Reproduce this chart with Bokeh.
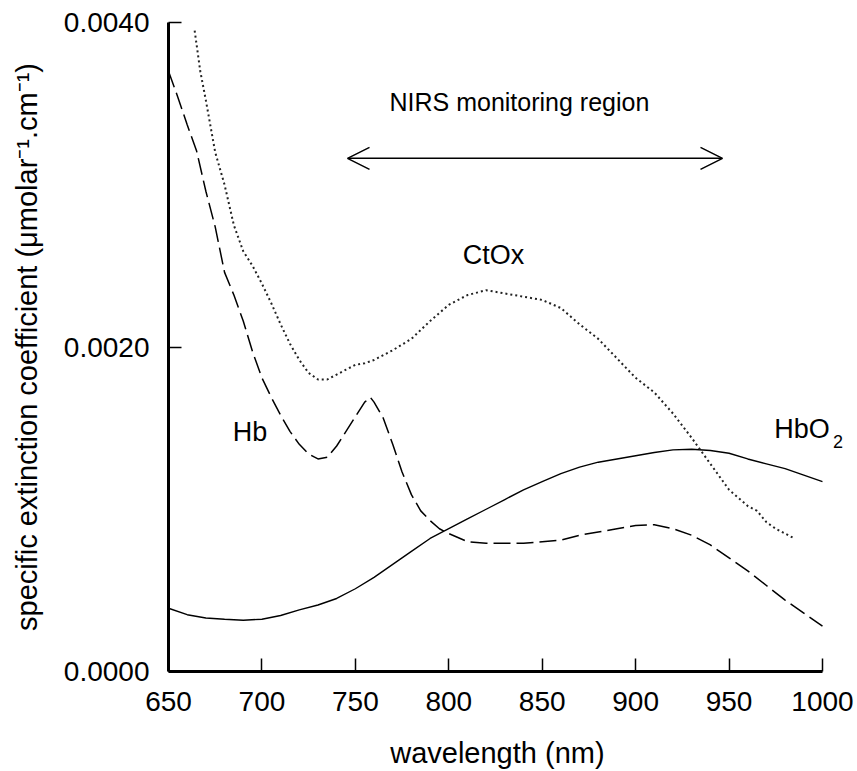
from bokeh.plotting import figure
from bokeh.models import Range1d, FixedTicker, PrintfTickFormatter, Label, Arrow, OpenHead
from bokeh.embed import file_html
from bokeh.resources import INLINE

# ---- data ----
hbo2_nm = [650, 660, 670, 680, 690, 700, 710, 720, 730, 740, 750, 760, 770, 780, 790,
           800, 810, 820, 830, 840, 850, 860, 870, 880, 890, 900, 910, 920, 930, 940,
           950, 960, 970, 980, 990, 1000]
hbo2 = [0.00039, 0.00035, 0.00033, 0.000322, 0.000316, 0.000322, 0.000345, 0.00038,
        0.00041, 0.00045, 0.00051, 0.00058, 0.00066, 0.00074, 0.00082, 0.00088, 0.00094,
        0.00100, 0.00106, 0.00112, 0.00117, 0.00122, 0.00126, 0.00129, 0.00131, 0.00133,
        0.00135, 0.001366, 0.00137, 0.001362, 0.001345, 0.00131, 0.00128, 0.00125,
        0.00121, 0.00117]

hb_nm = [650, 655, 660, 665, 670, 675, 680, 685, 690, 695, 700, 705, 710, 715, 720, 725,
         730, 735, 740, 745, 750, 755, 758, 760, 765, 770, 775, 780, 785, 790, 795, 800,
         810, 820, 830, 840, 850, 860, 870, 880, 890, 900, 910, 920, 930, 940, 950, 960,
         970, 980, 990, 1000]
hb = [0.00370, 0.00354, 0.00337, 0.00321, 0.00296, 0.00274, 0.00246, 0.00232, 0.00216,
      0.00197, 0.00181, 0.00169, 0.00158, 0.00148, 0.00140, 0.00134, 0.00131, 0.00132,
      0.00139, 0.00148, 0.00157, 0.00166, 0.00169, 0.00166, 0.00156, 0.00140, 0.00123,
      0.00109, 0.00099, 0.00093, 0.00088, 0.00085, 0.00080, 0.00079, 0.00079, 0.00079,
      0.00080, 0.00081, 0.00084, 0.00086, 0.00088, 0.00090, 0.000905, 0.00088, 0.00084,
      0.00078, 0.00070, 0.00062, 0.00053, 0.00044, 0.00036, 0.00028]

ctox_nm = [664, 667, 670, 675, 680, 685, 690, 695, 700, 705, 710, 715, 720, 725, 730,
           735, 740, 745, 750, 755, 760, 770, 780, 790, 800, 810, 820, 830, 840, 850,
           860, 870, 880, 890, 900, 910, 920, 930, 940, 950, 960, 965, 970, 975, 980, 985]
ctox = [0.00395, 0.00370, 0.00352, 0.00320, 0.00300, 0.00275, 0.00259, 0.00250, 0.00239,
        0.00227, 0.00214, 0.00202, 0.00192, 0.00184, 0.00180, 0.00180, 0.00183, 0.00186,
        0.00189, 0.00190, 0.00192, 0.00198, 0.00205, 0.00216, 0.00226, 0.00232, 0.00235,
        0.00233, 0.00231, 0.00229, 0.00224, 0.00214, 0.00205, 0.00193, 0.00181, 0.00172,
        0.00159, 0.00144, 0.00128, 0.00112, 0.00102, 0.00099, 0.00092, 0.00088, 0.00085,
        0.00082]

x_ticks = [650, 700, 750, 800, 850, 900, 950, 1000]
y_ticks = [0.0, 0.002, 0.004]

# annotation anchors (data units)
region_start, region_end, region_level = 745.8, 946.5, 0.003163
region_text = "NIRS monitoring region"
region_text_pos = (837.8, 0.003508)
curve_labels = [("Hb", 693.6, 0.001477), ("CtOx", 823.9, 0.002566), ("HbO", 989.0, 0.001495)]
sub_label = ("2", 1008.3, 0.001418)
x_title = "wavelength (nm)"
y_title = "specific extinction coefficient (\u03bcmolar\u207b\u00b9.cm\u207b\u00b9)"

FONT = "Liberation Sans"

# x range reaches a little past 1000 so the HbO2 label has room; the axis stops at 1000
p = figure(width=857, height=771, x_range=Range1d(650, 1015), y_range=Range1d(0, 0.004),
           output_backend="svg", toolbar_location=None,
           min_border_left=168, min_border_right=7, min_border_top=22, min_border_bottom=99)
p.grid.visible = False
p.outline_line_color = None
p.background_fill_color = "white"
p.border_fill_color = "white"

for ax in (p.xaxis[0], p.yaxis[0]):
    ax.axis_line_width = 3
    ax.axis_line_color = "black"
    ax.major_tick_in = 13
    ax.major_tick_out = 0
    ax.major_tick_line_width = 1.5
    ax.major_tick_line_color = "black"
    ax.minor_tick_line_color = None
    ax.major_label_text_font = FONT
    ax.major_label_text_font_size = "28px"
    ax.major_label_text_color = "black"
    ax.axis_label_text_font = FONT
    ax.axis_label_text_font_style = "normal"
    ax.axis_label_text_color = "black"

p.xaxis.bounds = (650, 1000)
p.xaxis.ticker = FixedTicker(ticks=x_ticks)
p.yaxis.ticker = FixedTicker(ticks=y_ticks)
p.xaxis.formatter = PrintfTickFormatter(format="%d")
p.yaxis.formatter = PrintfTickFormatter(format="%.4f")
p.xaxis.major_label_standoff = 20
p.yaxis.major_label_standoff = 19
p.yaxis.axis_label = y_title
p.yaxis.axis_label_text_font_size = "29px"
p.yaxis.axis_label_standoff = 18
# trailing no-break spaces re-centre the title under 650-1000 on the widened frame
p.xaxis.axis_label = x_title + "\u00a0\u00a0\u00a0"
p.xaxis.axis_label_text_font_size = "29px"
p.xaxis.axis_label_standoff = 23

p.line(hbo2_nm, hbo2, line_color="black", line_width=1.4)
p.line(hb_nm, hb, line_color="black", line_width=1.5, line_dash="17 6")
p.line(ctox_nm, ctox, line_color="#222222", line_width=2, line_dash="2 3")

p.add_layout(Arrow(start=OpenHead(size=22, line_width=1.5, line_color="black"),
                   end=OpenHead(size=22, line_width=1.5, line_color="black"),
                   x_start=region_start, y_start=region_level,
                   x_end=region_end, y_end=region_level,
                   line_width=1.5, line_color="black"))

p.add_layout(Label(x=region_text_pos[0], y=region_text_pos[1], text=region_text,
                   text_align="center", text_baseline="middle",
                   text_font=FONT, text_font_size="25px", text_color="black"))
for txt, lx, ly in curve_labels:
    p.add_layout(Label(x=lx, y=ly, text=txt, text_align="center", text_baseline="middle",
                       text_font=FONT, text_font_size="27px", text_color="black"))
p.add_layout(Label(x=sub_label[1], y=sub_label[2], text=sub_label[0], text_align="center",
                   text_baseline="middle", text_font=FONT, text_font_size="18px",
                   text_color="black"))

open("out.html", "w").write(file_html(p, INLINE))
